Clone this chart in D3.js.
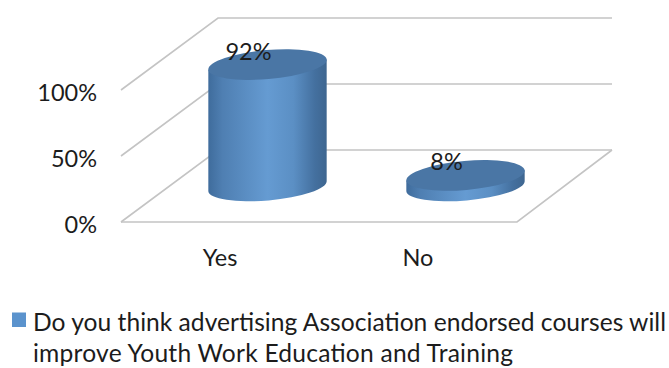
<!DOCTYPE html>
<html>
<head>
<meta charset="utf-8">
<script src="https://cdn.jsdelivr.net/npm/d3@7"></script>
<style>
  html, body { margin: 0; padding: 0; background: #fff; }
  svg { display: block; }
  text { font-family: Lato, "Open Sans", sans-serif; fill: #1c1c1c; }
</style>
</head>
<body>
<svg id="chart" width="669" height="368"></svg>
<script>
const categories = ["Yes", "No"];
const values = [92, 8];
const valueLabels = ["92%", "8%"];
const axisTicks = [0, 50, 100];
const legendLines = [
  "Do you think advertising Association endorsed courses will",
  "improve Youth Work Education and Training"
];
const legendWidths = [633, 480];

const depth = { x: 97, y: -72 };       // shift from the front of the floor to the back wall
const tiltDeg = -5;                    // rotation of the cylinder ellipses
const ryCap = 14.5;
const labelSize = 23.5;
const legendSize = 24.6;

const svg = d3.select("#chart");
const x = d3.scaleBand().domain(categories).range([121, 517]);
const y = d3.scaleLinear().domain([0, 100]).range([222, 90]);

const defs = svg.append("defs");
const sideGrad = defs.append("linearGradient").attr("id", "cylSide");
[[0, "#3f6c9c"], [0.12, "#4f7fb2"], [0.5, "#659bd2"], [0.72, "#5b8fc4"], [0.9, "#44709f"], [1, "#3e6690"]]
  .forEach(([o, c]) => sideGrad.append("stop").attr("offset", o).attr("stop-color", c));

// Floor and back wall lines
const grid = svg.append("g").attr("fill", "none").attr("stroke", "#c4c4c4").attr("stroke-width", 1.6);
axisTicks.forEach(t => {
  const y0 = y(t);
  grid.append("polyline").attr("points", [
    [x.range()[0], y0],
    [x.range()[0] + depth.x, y0 + depth.y],
    [x.range()[1] + depth.x - 2, y0 + depth.y]
  ].join(" "));
});
grid.append("polyline").attr("points", [
  [x.range()[0], y(0)],
  [x.range()[1], y(0)],
  [x.range()[1] + depth.x - 2, y(0) + depth.y]
].join(" "));

// Value axis labels
const yAxis = d3.axisLeft(y).tickValues(axisTicks).tickFormat(d => d + "%").tickSize(0).tickPadding(0);
const yG = svg.append("g").attr("transform", "translate(97,3)").call(yAxis);
yG.select(".domain").remove();
yG.selectAll("text").attr("font-size", labelSize).style("font-family", "Lato, sans-serif").attr("fill", "#1c1c1c");

// Category labels
const xAxis = d3.axisBottom(x).tickSize(0).tickPadding(0);
const xG = svg.append("g").attr("transform", "translate(0,249)").call(xAxis);
xG.select(".domain").remove();
xG.selectAll("text").attr("font-size", labelSize).style("font-family", "Lato, sans-serif").attr("fill", "#1c1c1c");

// Cylinders stand in the middle of the floor depth
const phi = tiltDeg * Math.PI / 180;
const rx = x.bandwidth() * 0.3;
const dx = rx * Math.cos(phi), dy = rx * Math.sin(phi);

categories.forEach((c, i) => {
  const cx = x(c) + x.bandwidth() / 2 + depth.x / 2 - 1;
  const base = y(0) + depth.y / 2;
  const top = base - (y(0) - y(values[i]));
  const g = svg.append("g").attr("class", "cylinder");

  g.append("path")
    .attr("d", `M${cx - dx},${top - dy} L${cx - dx},${base - dy}
      A${rx},${ryCap} ${tiltDeg} 0 0 ${cx + dx},${base + dy}
      L${cx + dx},${top + dy} Z`)
    .attr("fill", "url(#cylSide)");

  g.append("ellipse")
    .attr("rx", rx).attr("ry", ryCap)
    .attr("transform", `translate(${cx},${top}) rotate(${tiltDeg})`)
    .attr("fill", "#4a76a5");

  svg.append("text")
    .attr("x", cx - 19).attr("y", top - 11)
    .attr("text-anchor", "middle").attr("dominant-baseline", "middle")
    .attr("font-size", labelSize)
    .text(valueLabels[i]);
});

// Legend
svg.append("rect").attr("x", 12).attr("y", 312.5).attr("width", 14).attr("height", 14.5).attr("fill", "#5b93cd");
svg.selectAll(".legend").data(legendLines).join("text")
  .attr("class", "legend")
  .attr("x", 33)
  .attr("y", (d, i) => 331 + i * 31)
  .attr("font-size", legendSize)
  .attr("textLength", (d, i) => legendWidths[i])
  .attr("lengthAdjust", "spacing")
  .text(d => d);
</script>
</body>
</html>
